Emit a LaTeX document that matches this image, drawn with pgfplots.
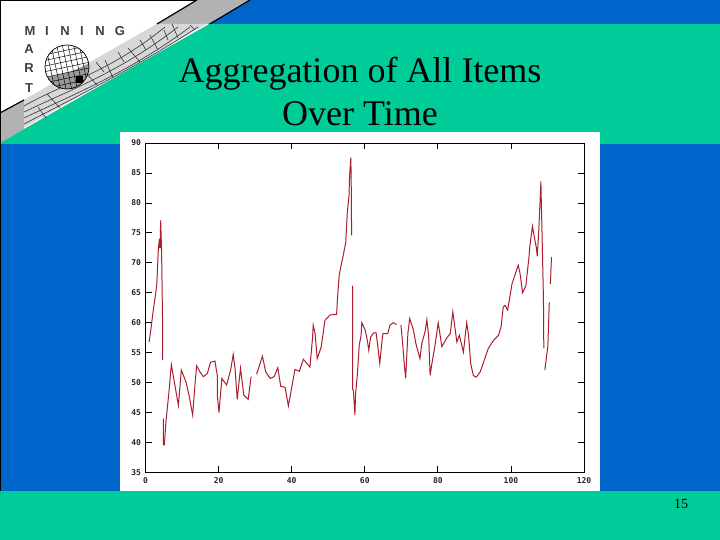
\documentclass[border=0pt]{standalone}
\usepackage{pgfplots}
\pgfplotsset{compat=1.18}
\usepackage{fontspec}
\setmainfont{Liberation Serif}
\newfontfamily\logofont{Liberation Sans}
\newfontfamily\tickfont{DejaVu Sans Mono}
\definecolor{teal1}{RGB}{0,204,153}
\definecolor{blue1}{RGB}{0,102,204}
\definecolor{grey1}{RGB}{178,178,178}
\definecolor{grey2}{RGB}{215,215,215}
\definecolor{line1}{RGB}{170,30,45}
\pgfplotstableread{
x y
1.0 56.8
1.5 59.0
2.0 61.5
2.4 63.2
3.06 66.2
3.2 67.9
3.5 72.1
3.8 74.0
3.97 72.4
4.15 77.1
4.4 72.1
4.6 63.2
4.7 58.7
4.7 53.8
nan nan
4.9 44.0
4.9 39.6
5.15 39.6
5.6 43.5
6.25 47.4
6.5 49.0
7.07 53.0
7.9 50.1
9.0 46.2
9.8 52.1
11.1 50.1
12.0 47.6
12.9 44.6
13.6 50.1
14.0 52.8
14.9 51.8
15.8 51.0
16.9 51.5
17.8 53.4
19.0 53.6
19.7 51.0
19.7 47.6
20.1 45.0
20.9 50.7
22.2 49.6
23.3 52.1
24.0 54.7
24.5 52.4
25.1 47.2
26.0 52.4
26.9 47.9
28.1 47.2
28.9 51.0
nan nan
30.4 51.4
32.0 54.4
32.9 51.8
34.1 50.7
35.2 51.0
36.2 52.5
37.0 49.4
38.2 49.2
39.1 46.1
40.9 52.2
42.1 51.9
43.2 53.9
45.0 52.6
45.7 57.4
45.9 59.6
46.4 58.2
47.0 54.0
48.1 56.0
49.1 60.4
50.5 61.3
52.3 61.4
52.5 63.7
53.0 67.9
53.7 70.1
54.1 71.2
54.8 73.4
55.2 78.2
55.7 81.2
55.8 83.8
56.0 86.0
56.2 87.6
56.3 83.2
56.4 74.6
nan nan
56.7 66.2
56.7 57.4
56.7 48.9
56.9 48.7
57.3 44.6
57.5 48.2
58.0 51.5
58.5 56.3
59.0 57.9
59.2 60.0
60.1 58.8
60.7 57.1
61.1 55.4
61.6 57.6
62.4 58.3
63.1 58.3
63.6 56.0
64.1 53.2
64.8 57.4
65.0 58.2
66.3 58.2
66.9 59.6
67.8 60.0
68.7 59.7
nan nan
69.9 59.6
70.3 57.1
70.8 53.2
71.2 50.7
71.8 58.2
72.3 60.7
73.3 58.8
74.0 56.5
75.1 54.0
75.6 56.5
76.5 58.5
77.0 60.5
77.5 57.6
77.7 54.3
77.9 51.2
78.3 52.9
79.3 56.5
80.1 60.0
81.1 56.0
82.4 57.4
83.4 58.2
84.1 61.8
85.2 56.8
85.9 57.9
87.0 55.1
87.9 60.0
88.4 57.9
89.0 53.2
89.7 51.2
90.5 50.9
91.6 51.8
93.8 55.7
95.3 57.1
96.6 57.9
97.3 59.3
97.9 62.6
98.4 62.9
99.1 62.1
99.9 65.0
100.3 66.5
102.0 69.6
102.5 68.2
103.2 65.0
104.1 66.2
104.3 67.4
104.9 70.7
105.2 72.9
105.9 76.1
106.4 74.3
107.0 72.4
107.2 71.1
107.6 75.1
108.0 80.7
108.2 83.6
108.3 80.7
108.6 72.6
108.9 64.0
109.0 55.7
nan nan
109.3 52.1
109.8 54.6
110.1 56.0
110.5 63.4
nan nan
110.8 66.5
111.1 71.0
}\series
\begin{document}
\begin{tikzpicture}[x=1pt,y=1pt]
\clip (0,0) rectangle (720,540);
\begin{scope}[yscale=-1,yshift=-540pt]
\fill[white] (0,0) rectangle (720,540);
\fill[blue1] (0,0) rectangle (720,491);
\fill[teal1] (0,24) rectangle (720,144);
\fill[teal1] (0,491) rectangle (720,540);
% logo
\fill[white] (0,0) -- (200,0) -- (0,113) -- cycle;
\fill[blue1] (197,0) rectangle (720,24);
\fill[teal1] (0,144) -- (208,24) -- (208,144) -- cycle;
\fill[grey1] (0,113) -- (197,0) -- (250,0) -- (208,24) -- (0,143) -- cycle;
\fill[white] (0,0) -- (197,0) -- (157,24) -- (24,100) -- (0,113) -- cycle;
\fill[grey2] (24,100) -- (157,24) -- (208,24) -- (24,127) -- cycle;
\draw[black,line width=1.2pt] (0,113) -- (24,100);
\draw[black,line width=1.2pt] (157,24) -- (197,0);
\draw[black,line width=1.2pt] (210,24) -- (250,0);
\draw[white,line width=1pt] (24,128) -- (208,24);
\begin{scope}[black!80,line width=.6pt]
\draw (24,106) .. controls (60,85) and (110,72) .. (165,27);
\draw (24,112) .. controls (70,90) and (120,72) .. (178,27);
\draw (24,118) .. controls (70,96) and (130,72) .. (190,27);
\draw (24,124) .. controls (80,95) and (140,65) .. (198,27);
\draw (47,94) -- (60,108);
\draw (38,107) -- (46,118);
\draw (85,72) -- (97,85);
\draw (105,60) -- (113,78);
\draw (128,48) -- (140,62);
\draw (150,35) -- (158,50);
\draw (172,24) -- (178,38);
\draw (190,25) -- (195,30);
\draw (96,62) -- (104,72);
\draw (118,52) -- (124,62);
\draw (140,40) -- (146,50);
\draw (164,30) -- (168,40);
\end{scope}
% ball
\fill[white] (67,67) circle (22);
\begin{scope}
\clip (67,67) circle (22);
\fill[black!40] (48,77) -- (70,72) -- (90,63) -- (90,92) -- (48,92) -- cycle;
\foreach \i in {-5,...,5} {
\draw[black,line width=.45pt,rotate around={-12:(67,67)}] (67+\i*5.5,40) -- (67+\i*5.5,95);
\draw[black,line width=.45pt,rotate around={-12:(67,67)}] (40,67+\i*5.5) -- (95,67+\i*5.5);
}
\fill[black] (76,76) rectangle (83,83);
\end{scope}
\draw[black,line width=.7pt] (67,67) circle (22);
\node[font=\logofont\bfseries\fontsize{13}{13}\selectfont,text=black!75] at (30,31) {M};
\node[font=\logofont\bfseries\fontsize{13}{13}\selectfont,text=black!75] at (47,31) {I};
\node[font=\logofont\bfseries\fontsize{13}{13}\selectfont,text=black!75] at (65,31) {N};
\node[font=\logofont\bfseries\fontsize{13}{13}\selectfont,text=black!75] at (82,31) {I};
\node[font=\logofont\bfseries\fontsize{13}{13}\selectfont,text=black!75] at (100,31) {N};
\node[font=\logofont\bfseries\fontsize{13}{13}\selectfont,text=black!75] at (120,31) {G};
\node[font=\logofont\bfseries\fontsize{13}{13}\selectfont,text=black!75] at (29,49) {A};
\node[font=\logofont\bfseries\fontsize{13}{13}\selectfont,text=black!75] at (29,68) {R};
\node[font=\logofont\bfseries\fontsize{13}{13}\selectfont,text=black!75] at (29,88) {T};
\draw[black,line width=.8pt] (0,0) -- (197,0);
\draw[black,line width=.8pt] (0,0) -- (0,491);
% plot image ground
\fill[white] (120,132) rectangle (600,491);
% title and page number
\node[font=\fontsize{36}{43}\selectfont,align=center,text=black] at (360,92) {Aggregation of All Items\\Over Time};
\node[font=\fontsize{14}{14}\selectfont,text=black] at (681,504) {15};
\end{scope}
\begin{axis}[
  at={(145.5pt,67.5pt)},anchor=origin,
  scale only axis,width=438.5pt,height=329.5pt,
  xmin=0,xmax=120,ymin=35,ymax=90,
  xtick={0,20,...,120},ytick={35,40,...,90},
  tick align=inside,major tick length=6pt,
  axis line style={black,line width=.8pt},
  tick style={black,line width=.8pt},
  ticklabel style={font=\tickfont\bfseries\fontsize{8}{8}\selectfont,text=black!85},
  /pgf/number format/assume math mode=true,
  xticklabel style={yshift=-2pt},
  yticklabel style={xshift=-1pt},
  unbounded coords=jump,
  clip=false,
]
\addplot[line1,line width=1pt,no marks] table[x=x,y=y] {\series};
\end{axis}
\end{tikzpicture}
\end{document}
